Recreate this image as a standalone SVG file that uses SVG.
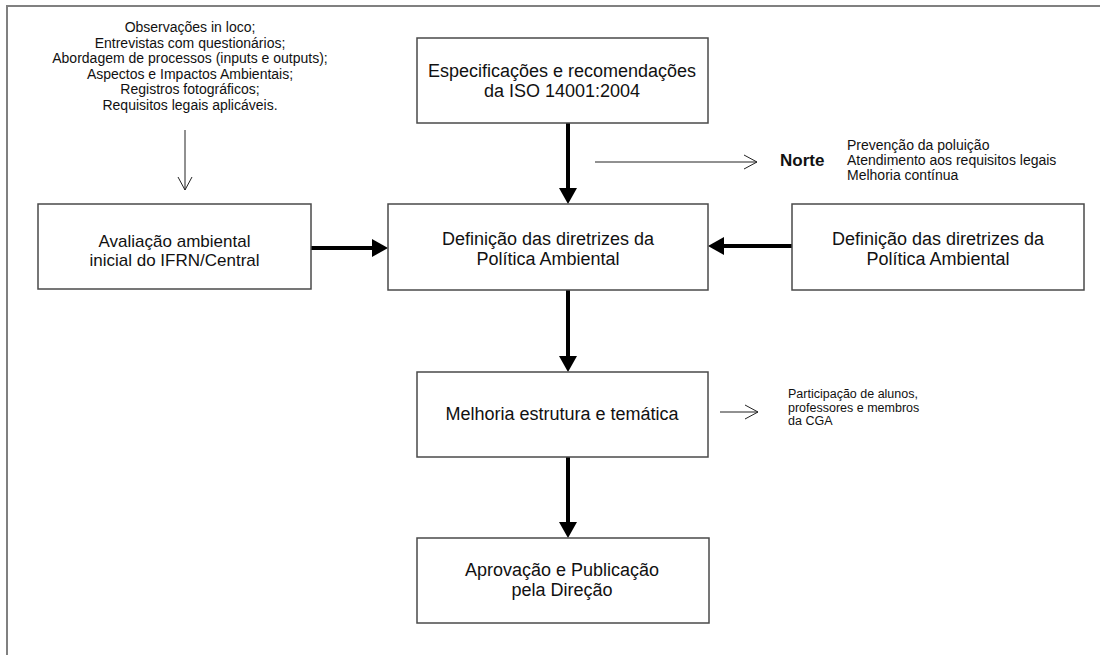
<svg xmlns="http://www.w3.org/2000/svg" width="1100" height="655" viewBox="0 0 1100 655">
<style>
  text { font-family: "Liberation Sans", Arial, sans-serif; fill: #111; }
  .box { fill: #fff; stroke: #4a4a4a; stroke-width: 1.5; }
  .t18 { font-size: 18px; text-anchor: middle; }
  .t17 { font-size: 17px; text-anchor: middle; }
  .t14 { font-size: 14px; }
  .t12 { font-size: 12.5px; }
  .thick { stroke: #000; stroke-width: 4; fill: none; marker-end: url(#headFilled); }
  .thin { stroke: #222; stroke-width: 1; fill: none; marker-end: url(#headOpen); }
  .frame { stroke: #808080; stroke-width: 2; fill: none; }
</style>
<defs>
  <marker id="headFilled" viewBox="0 0 16 18" refX="4" refY="9" markerWidth="16" markerHeight="18" markerUnits="userSpaceOnUse" orient="auto">
    <path d="M0,0 L16,9 L0,18 Z" fill="#000"/>
  </marker>
  <marker id="headOpen" viewBox="-1 -1 15 16" refX="13" refY="7" markerWidth="15" markerHeight="16" markerUnits="userSpaceOnUse" orient="auto">
    <path d="M0,0 L13,7 L0,14" fill="none" stroke="#222" stroke-width="1"/>
  </marker>
</defs>

<g id="frame">
  <path class="frame" d="M7,655 L7,6 L1100,6"/>
</g>

<g id="connectors">
  <line class="thin" x1="185" y1="130" x2="185" y2="190"/>
  <line class="thin" x1="595" y1="162" x2="757" y2="162"/>
  <line class="thin" x1="720" y1="412" x2="758" y2="412"/>
  <line class="thick" x1="568" y1="123" x2="568" y2="192"/>
  <line class="thick" x1="311" y1="248" x2="376" y2="248"/>
  <line class="thick" x1="792" y1="246" x2="720" y2="246"/>
  <line class="thick" x1="568" y1="290" x2="568" y2="360"/>
  <line class="thick" x1="568" y1="457" x2="568" y2="526"/>
</g>

<g id="inputs-text">
  <text class="t14" text-anchor="middle" x="190" y="32">Observações in loco;</text>
  <text class="t14" text-anchor="middle" x="190" y="47.5">Entrevistas com questionários;</text>
  <text class="t14" text-anchor="middle" x="190" y="63">Abordagem de processos (inputs e outputs);</text>
  <text class="t14" text-anchor="middle" x="190" y="78.5">Aspectos e Impactos Ambientais;</text>
  <text class="t14" text-anchor="middle" x="190" y="94">Registros fotográficos;</text>
  <text class="t14" text-anchor="middle" x="190" y="109.5">Requisitos legais aplicáveis.</text>
</g>

<g id="node-iso">
  <rect class="box" x="417" y="38" width="291" height="85"/>
  <text class="t18" x="562" y="77">Especificações e recomendações</text>
  <text class="t18" x="562" y="97">da ISO 14001:2004</text>
</g>

<g id="norte-label">
  <text x="780" y="166" style="font-size:17px;font-weight:bold;">Norte</text>
  <text class="t14" x="847" y="150">Prevenção da poluição</text>
  <text class="t14" x="847" y="165">Atendimento aos requisitos legais</text>
  <text class="t14" x="847" y="180">Melhoria contínua</text>
</g>

<g id="node-avaliacao">
  <rect class="box" x="38" y="204" width="273" height="85"/>
  <text class="t17" x="174.5" y="247">Avaliação ambiental</text>
  <text class="t17" x="174.5" y="266">inicial do IFRN/Central</text>
</g>

<g id="node-definicao">
  <rect class="box" x="388" y="204" width="320" height="86"/>
  <text class="t18" x="548" y="245">Definição das diretrizes da</text>
  <text class="t18" x="548" y="265">Política Ambiental</text>
</g>

<g id="node-definicao-right">
  <rect class="box" x="792" y="204" width="292" height="86"/>
  <text class="t18" x="938" y="245">Definição das diretrizes da</text>
  <text class="t18" x="938" y="265">Política Ambiental</text>
</g>

<g id="node-melhoria">
  <rect class="box" x="417" y="372" width="291" height="85"/>
  <text class="t18" x="562" y="420">Melhoria estrutura e temática</text>
</g>

<g id="participacao-label">
  <text class="t12" x="788" y="398">Participação de alunos,</text>
  <text class="t12" x="788" y="411.5">professores e membros</text>
  <text class="t12" x="788" y="425">da CGA</text>
</g>

<g id="node-aprovacao">
  <rect class="box" x="417" y="538" width="292" height="85"/>
  <text class="t18" x="562" y="576">Aprovação e Publicação</text>
  <text class="t18" x="562" y="596">pela Direção</text>
</g>
</svg>
